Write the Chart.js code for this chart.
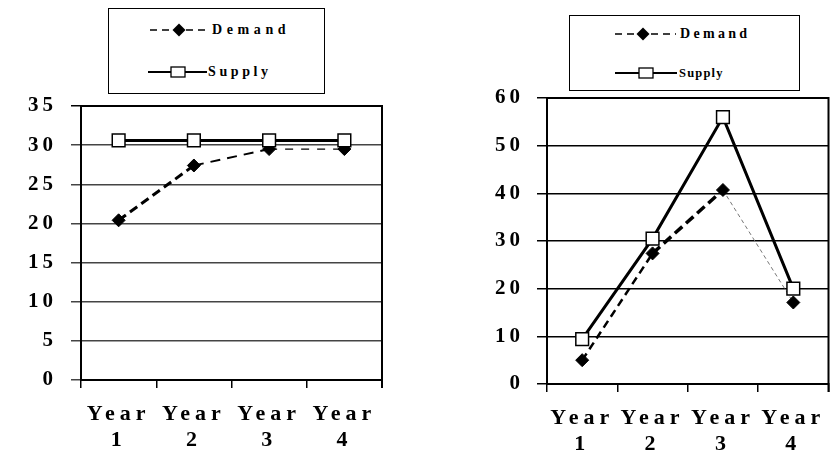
<!DOCTYPE html>
<html>
<head>
<meta charset="utf-8">
<title>Demand and Supply</title>
<script src="https://cdn.jsdelivr.net/npm/chart.js@4.4.1/dist/chart.umd.min.js"></script>
<style>
  html, body { margin: 0; padding: 0; background: #fff; }
  body { width: 839px; height: 453px; position: relative; overflow: hidden;
         font-family: "Liberation Serif", "Times New Roman", serif; }
  .wrap { position: absolute; top: 0; height: 453px; }
  .legend { position: absolute; box-sizing: border-box; border: 1.5px solid #000; background: #fff; }
  .item { position: absolute; height: 20px; display: flex; align-items: center;
          font-weight: bold; white-space: nowrap; color: #000; }
  .item svg { display: block; }
</style>
</head>
<body>
<div class="wrap" style="left:0;width:420px"><canvas id="leftChart"></canvas></div>
<div class="wrap" style="left:420px;width:419px"><canvas id="rightChart"></canvas></div>
<div class="legend" id="leftLegend" style="left:108px;top:8px;width:217px;height:86px"></div>
<div class="legend" id="rightLegend" style="left:569px;top:15px;width:231px;height:76px"></div>
<script>
// data
var years = [['Year', '1'], ['Year', '2'], ['Year', '3'], ['Year', '4']];
var seriesNames = ['Demand', 'Supply'];
var leftDemand = [20.4, 27.4, 29.5, 29.5];
var leftSupply = [30.6, 30.6, 30.6, 30.6];
var rightDemand = [5, 27.4, 40.7, 17.1];
var rightSupply = [9.4, 30.5, 56, 20];
var leftTicks = [0, 5, 10, 15, 20, 25, 30, 35];
var rightTicks = [0, 10, 20, 30, 40, 50, 60];

// wide letter spacing like the original (a bit tighter on the y axis)
var spacing = {
    id: 'spacing',
    beforeDraw: function (chart) {
        chart.ctx.letterSpacing = '5px';
        var y = chart.scales.y;
        if (y && !y._spaced) {
            var orig = y.drawLabels;
            y.drawLabels = function (area) {
                var ctx = this.ctx, old = ctx.letterSpacing;
                ctx.letterSpacing = '4px';
                orig.call(this, area);
                ctx.letterSpacing = old;
            };
            y._spaced = true;
        }
    }
};

// right and top edges of the plot box
var frame = {
    id: 'frame',
    beforeDatasetsDraw: function (chart) {
        var a = chart.chartArea, ctx = chart.ctx;
        ctx.save();
        ctx.strokeStyle = '#000';
        ctx.lineWidth = 2;
        ctx.beginPath();
        ctx.moveTo(a.left, a.top);
        ctx.lineTo(a.right, a.top);
        ctx.lineTo(a.right, a.bottom + 8);
        ctx.stroke();
        ctx.restore();
    }
};

function makeChart(id, demand, supply, tickVals, look) {
    var max = tickVals[tickVals.length - 1];
    return new Chart(document.getElementById(id), {
        type: 'line',
        data: {
            labels: years,
            datasets: [{
                label: seriesNames[0],
                data: demand,
                order: 1,
                borderColor: '#000',
                backgroundColor: '#000',
                borderWidth: 2,
                pointStyle: 'rectRot',
                pointRadius: 6.5,
                pointBorderWidth: 1,
                pointBackgroundColor: '#000',
                segment: {
                    borderWidth: function (c) { return look.dashWidth[c.p0DataIndex]; },
                    borderColor: function (c) { return look.dashColor[c.p0DataIndex]; },
                    borderDash: function (c) { return look.dash[c.p0DataIndex]; }
                }
            }, {
                label: seriesNames[1],
                data: supply,
                order: 0,
                borderColor: '#000',
                borderWidth: 3,
                pointStyle: 'rect',
                pointRadius: 9,
                pointBorderWidth: 1.5,
                pointBorderColor: '#000',
                pointBackgroundColor: '#fff'
            }]
        },
        options: {
            responsive: true,
            maintainAspectRatio: false,
            animation: false,
            layout: { padding: { top: look.top, right: look.right, left: 0, bottom: 0 } },
            plugins: { legend: { display: false }, tooltip: { enabled: false } },
            scales: {
                x: {
                    offset: true,
                    grid: { offset: true, drawOnChartArea: false, tickLength: 8, color: '#000', lineWidth: 1.5 },
                    border: { color: '#000', width: 2 },
                    ticks: {
                        color: '#000', padding: 13, maxRotation: 0, autoSkip: false,
                        font: { family: 'Liberation Serif', size: 22, weight: 'bold', lineHeight: 1.2 }
                    },
                    afterFit: function (s) { s.height = look.xh; }
                },
                y: {
                    min: 0,
                    max: max,
                    grid: {
                        tickLength: 10, lineWidth: 1.5,
                        color: function (c) { return c.tick && c.tick.value === max ? '#000' : look.grid; }
                    },
                    border: { color: '#000', width: 2 },
                    ticks: {
                        color: '#000', padding: look.pad,
                        font: { family: 'Liberation Serif', size: 21, weight: 'bold' }
                    },
                    afterBuildTicks: function (s) {
                        s.ticks = tickVals.map(function (v) { return { value: v }; });
                    },
                    afterFit: function (s) { s.width = look.yw; }
                }
            }
        },
        plugins: [spacing, frame]
    });
}

makeChart('leftChart', leftDemand, leftSupply, leftTicks, {
    top: 106, right: 38, xh: 73, yw: 81, pad: 14, grid: '#444',
    dashWidth: [3, 2, 1.3], dashColor: ['#000', '#000', '#000'],
    dash: [[9, 5], [10, 7], [8, 8]]
});
makeChart('rightChart', rightDemand, rightSupply, rightTicks, {
    top: 98, right: 9, xh: 69, yw: 127, pad: 13, grid: '#000',
    dashWidth: [2.5, 3.5, 1], dashColor: ['#000', '#000', '#777'],
    dash: [[8, 5], [10, 5], [4, 3]]
});

// boxed legends
function symbol(kind, w, mid) {
    var s = '<svg width="' + w + '" height="16"><line x1="0" y1="8" x2="' + w + '" y2="8" stroke="#000" ';
    if (kind === 0) {
        s += 'stroke-width="1.3" stroke-dasharray="7 5"/>';
        s += '<path d="M' + mid + ' 1.5 L' + (mid + 6.5) + ' 8 L' + mid + ' 14.5 L' + (mid - 6.5) + ' 8Z" fill="#000"/>';
    } else {
        s += 'stroke-width="2"/>';
        s += '<rect x="' + (mid - 7) + '" y="3" width="14" height="10" fill="#fff" stroke="#000" stroke-width="1.3"/>';
    }
    return s + '</svg>';
}

function buildLegend(elId, rows) {
    var box = document.getElementById(elId);
    rows.forEach(function (r, i) {
        var d = document.createElement('div');
        d.className = 'item';
        d.style.left = r.x + 'px';
        d.style.top = (r.y - 10) + 'px';
        d.innerHTML = symbol(i, r.w, r.mid) +
            '<span style="margin-left:' + r.gap + 'px;font-size:' + r.size + 'px;letter-spacing:' + r.ls + 'px">' +
            seriesNames[i] + '</span>';
        box.appendChild(d);
    });
}

buildLegend('leftLegend', [
    { x: 41, y: 21, w: 56, mid: 29, gap: 6, size: 14, ls: 4.6 },
    { x: 39, y: 63, w: 59, mid: 30, gap: 1, size: 14, ls: 3.6 }
]);
buildLegend('rightLegend', [
    { x: 45, y: 18, w: 61, mid: 28, gap: 4, size: 14, ls: 3.3 },
    { x: 45, y: 57, w: 62, mid: 31, gap: 2, size: 12.5, ls: 1.2 }
]);
</script>
</body>
</html>
